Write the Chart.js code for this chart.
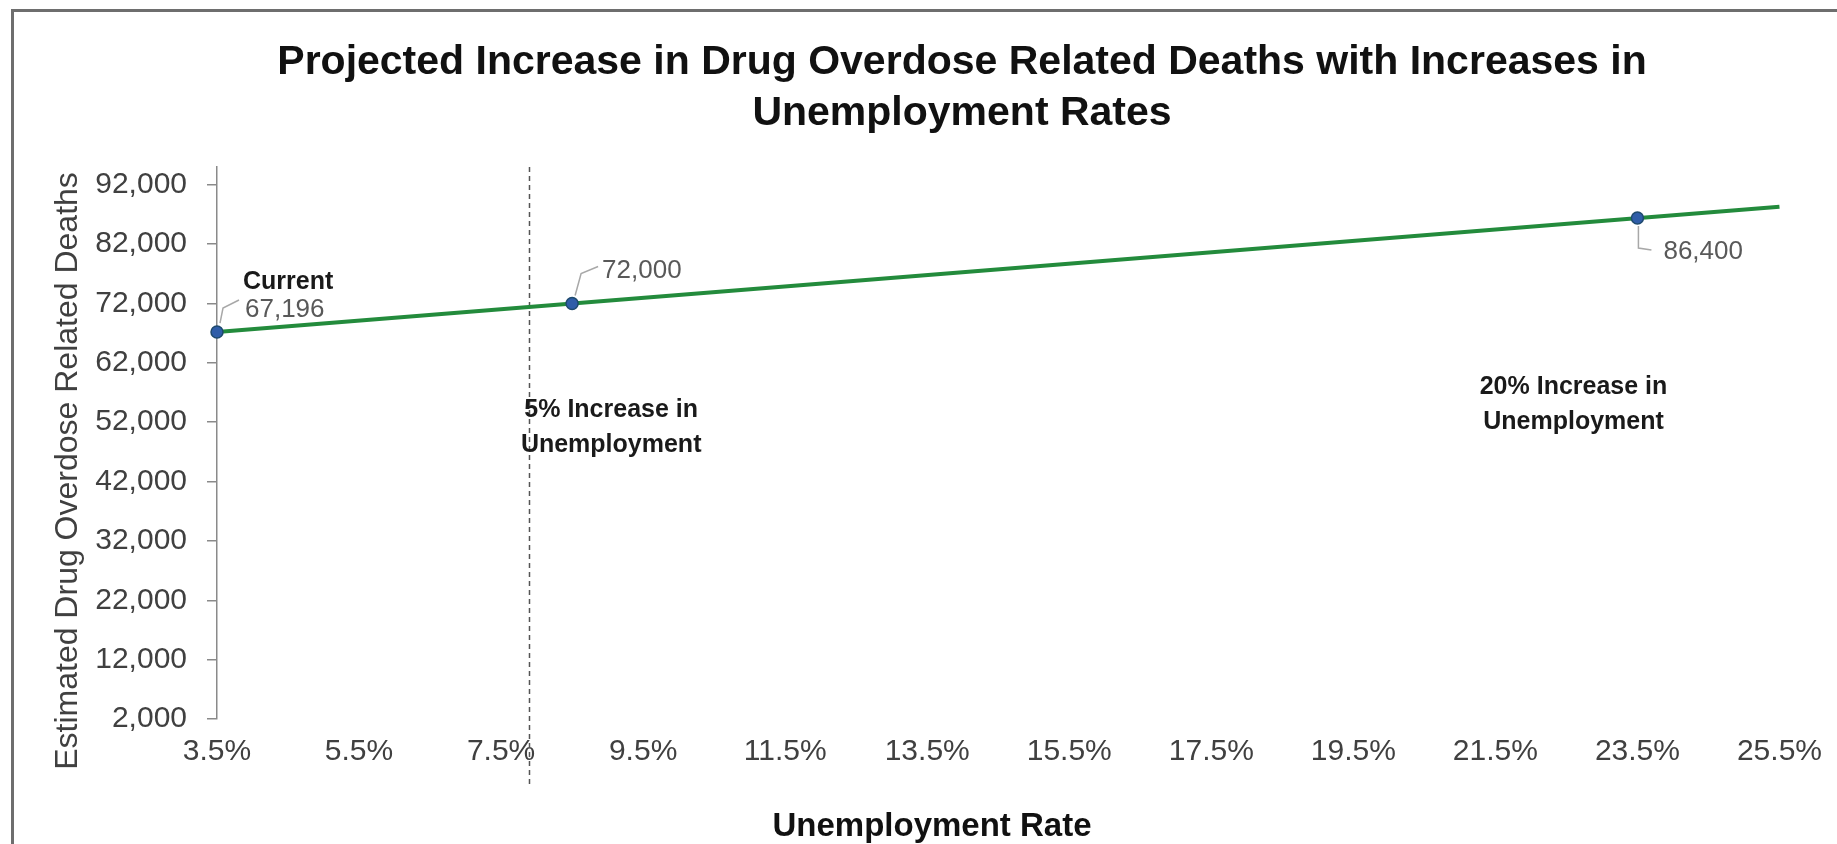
<!DOCTYPE html>
<html>
<head>
<meta charset="utf-8">
<title>Projected Increase in Drug Overdose Related Deaths</title>
<script src="https://cdn.jsdelivr.net/npm/chart.js@4.4.1/dist/chart.umd.min.js"></script>
<style>
  html, body { margin: 0; padding: 0; background: #fff; }
  #wrap { position: relative; width: 1837px; height: 844px; overflow: hidden; font-family: 'Liberation Sans', Arial, sans-serif; }
  #chart { position: absolute; left: 0; top: 0; }
  /* chart frame: only the left and top edges are visible in the picture */
  #frame {
    position: absolute; left: 11px; top: 9px; right: -10px; bottom: -10px;
    border-left: 3px solid #6e6e6e; border-top: 3px solid #6e6e6e;
    pointer-events: none;
  }
  .label { position: absolute; margin: 0; text-align: center; white-space: nowrap; pointer-events: none; }
  #title  { left: 162px; top: 35px; width: 1600px; font-size: 41px; line-height: 51px; font-weight: bold; color: #111; }
  #xTitle { left: 632px; top: 805px; width: 600px; font-size: 33px; line-height: 40px; font-weight: bold; color: #111; }
  #yTitle { left: -284px; top: 451px; width: 700px; font-size: 32px; line-height: 40px; color: #404040; transform: rotate(-90deg); }
</style>
</head>
<body>
<div id="wrap">
  <canvas id="chart" width="1837" height="844"></canvas>
  <h1 class="label" id="title">Projected Increase in Drug Overdose Related Deaths with Increases in<br>Unemployment Rates</h1>
  <div class="label" id="yTitle">Estimated Drug Overdose Related Deaths</div>
  <div class="label" id="xTitle">Unemployment Rate</div>
  <div id="frame"></div>
</div>
<script>
// ─── Data ──────────────────────────────────────────────────────────────────────
const rates       = [3.5, 8.5, 23.5];          // unemployment rate, %
const deaths      = [67196, 72000, 86400];     // estimated overdose deaths
const pointNames  = ['Current', '', ''];
const trendRates  = [3.5, 25.5];
const trendDeaths = [67196, 88300];
const markerRate  = 7.9;                       // dashed reference line
const notes       = [['5% Increase in', 'Unemployment'], ['20% Increase in', 'Unemployment']];

const xTicks = [3.5, 5.5, 7.5, 9.5, 11.5, 13.5, 15.5, 17.5, 19.5, 21.5, 23.5, 25.5];
const yTicks = [2000, 12000, 22000, 32000, 42000, 52000, 62000, 72000, 82000, 92000];

const fmt = v => v.toLocaleString('en-US');

Chart.defaults.font.family = "'Liberation Sans', Arial, sans-serif";

// ─── Callouts: dashed marker, data labels, notes ──────────────────────────────
const callouts = {
  id: 'callouts',
  beforeDatasetsDraw(chart) {
    const { ctx, chartArea, scales: { x } } = chart;
    const px = x.getPixelForValue(markerRate);
    ctx.save();
    ctx.strokeStyle = '#555';
    ctx.lineWidth = 1.5;
    ctx.setLineDash([5, 4]);
    ctx.beginPath();
    ctx.moveTo(px, chartArea.top);
    ctx.lineTo(px, chartArea.bottom + 66);
    ctx.stroke();
    ctx.restore();
  },
  afterDatasetsDraw(chart, args, opts) {
    const { ctx, scales: { x, y } } = chart;
    const pts = chart.getDatasetMeta(1).data;
    ctx.save();

    // leader lines
    ctx.strokeStyle = '#a8a8a8';
    ctx.lineWidth = 1.5;
    opts.leaders.forEach((path, i) => {
      const p = pts[i];
      ctx.beginPath();
      path.forEach(([dx, dy], k) => k ? ctx.lineTo(p.x + dx, p.y + dy) : ctx.moveTo(p.x + dx, p.y + dy));
      ctx.stroke();
    });

    // value labels
    ctx.textBaseline = 'middle';
    ctx.textAlign = 'left';
    opts.labelOffsets.forEach(([dx, dy], i) => {
      const p = pts[i];
      if (pointNames[i]) {
        ctx.font = "bold 25px 'Liberation Sans', Arial, sans-serif";
        ctx.fillStyle = '#1a1a1a';
        ctx.fillText(pointNames[i], p.x + dx - 2, p.y + dy - 28);
      }
      ctx.font = "26px 'Liberation Sans', Arial, sans-serif";
      ctx.fillStyle = '#595959';
      ctx.fillText(fmt(deaths[i]), p.x + dx, p.y + dy);
    });

    // notes
    ctx.font = "bold 25px 'Liberation Sans', Arial, sans-serif";
    ctx.fillStyle = '#1a1a1a';
    ctx.textAlign = 'center';
    notes.forEach((lines, i) => {
      const a = opts.noteAt[i];
      const cx = x.getPixelForValue(a.x);
      const cy = y.getPixelForValue(a.y);
      lines.forEach((t, k) => ctx.fillText(t, cx, cy + k * 35));
    });
    ctx.restore();
  }
};

new Chart(document.getElementById('chart'), {
  data: {
    datasets: [
      {
        type: 'line',
        label: 'Trend',
        data: trendRates.map((r, i) => ({ x: r, y: trendDeaths[i] })),
        borderColor: '#238b3c',
        borderWidth: 4,
        pointRadius: 0,
        clip: false,
        order: 2
      },
      {
        type: 'scatter',
        label: 'Projected deaths',
        data: rates.map((r, i) => ({ x: r, y: deaths[i] })),
        backgroundColor: '#2f5da8',
        borderColor: '#1e4a6e',
        borderWidth: 1.5,
        pointRadius: 6,
        clip: false,
        order: 1
      }
    ]
  },
  options: {
    responsive: false,
    animation: false,
    // top and bottom room is taken by the HTML chart title and axis title
    layout: { padding: { top: 167, right: 56, bottom: 65, left: 0 } },
    plugins: {
      legend: { display: false },
      tooltip: { enabled: false },
      callouts: {
        labelOffsets: [[28, -22], [30, -33], [26, 34]],
        leaders: [
          [[3, -9], [6, -24], [22, -32]],
          [[3, -8], [9, -30], [26, -37]],
          [[1, 8], [1, 30], [14, 32]]
        ],
        noteAt: [{ x: 9.05, y: 54000 }, { x: 22.6, y: 57900 }]
      }
    },
    scales: {
      x: {
        type: 'linear',
        min: 3.5,
        max: 25.5,
        afterBuildTicks: s => { s.ticks = xTicks.map(v => ({ value: v })); },
        afterFit: s => { s.height = 60; },
        grid: { display: false, drawTicks: false },
        border: { display: false },
        ticks: {
          padding: 15, color: '#404040', font: { size: 30 },
          maxRotation: 0, autoSkip: false,
          callback: v => v.toFixed(1) + '%'
        }
      },
      y: {
        type: 'linear',
        min: 2000,
        max: 95000,
        afterBuildTicks: s => { s.ticks = yTicks.map(v => ({ value: v })); },
        afterFit: s => { s.width = 217; },
        grid: { drawOnChartArea: false, drawTicks: true, tickLength: 10, color: '#8a8a8a', lineWidth: 1.5 },
        border: { display: true, color: '#8a8a8a', width: 1.5 },
        ticks: { padding: 20, color: '#404040', font: { size: 30 }, autoSkip: false, callback: v => fmt(v) }
      }
    }
  },
  plugins: [callouts]
});
</script>
</body>
</html>
